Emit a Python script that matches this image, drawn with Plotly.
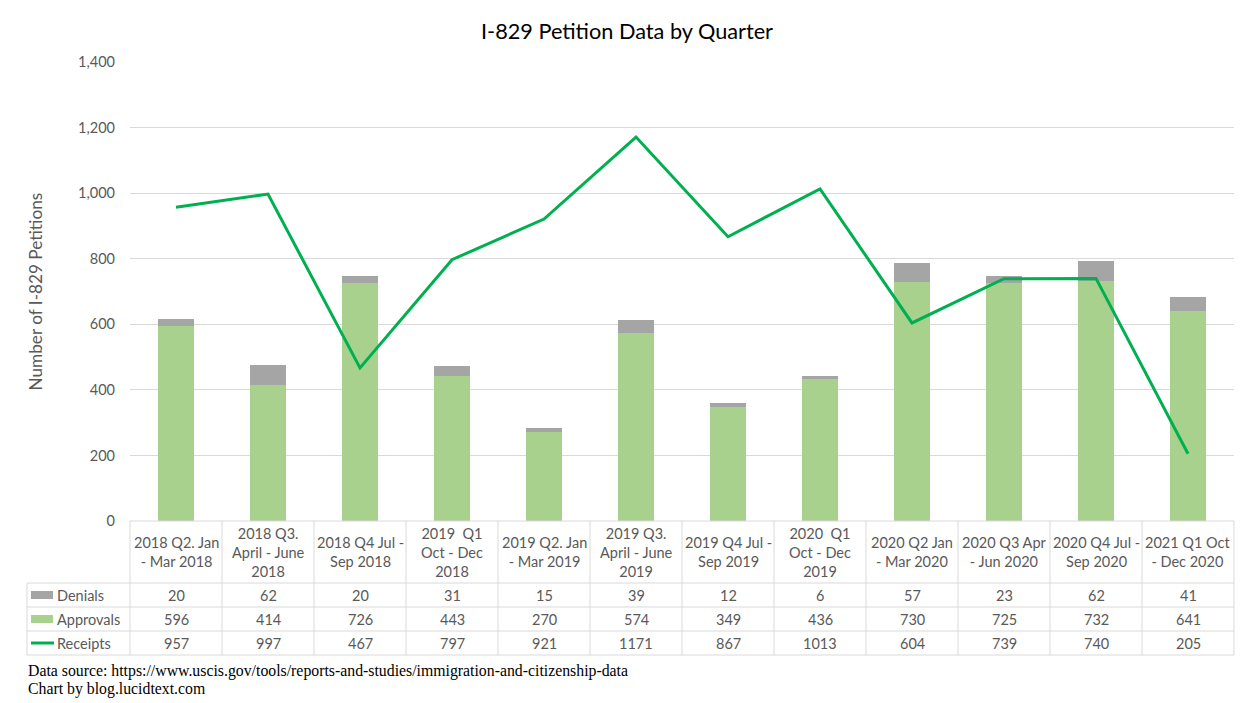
import plotly.graph_objects as go

categories = [
    "2018 Q2. Jan<br>- Mar 2018",
    "2018 Q3.<br>April - June<br>2018",
    "2018 Q4 Jul -<br>Sep 2018",
    "2019  Q1<br>Oct - Dec<br>2018",
    "2019 Q2. Jan<br>- Mar 2019",
    "2019 Q3.<br>April - June<br>2019",
    "2019 Q4 Jul -<br>Sep 2019",
    "2020  Q1<br>Oct - Dec<br>2019",
    "2020 Q2 Jan<br>- Mar 2020",
    "2020 Q3 Apr<br>- Jun 2020",
    "2020 Q4 Jul -<br>Sep 2020",
    "2021 Q1 Oct<br>- Dec 2020",
]
denials = [20, 62, 20, 31, 15, 39, 12, 6, 57, 23, 62, 41]
approvals = [596, 414, 726, 443, 270, 574, 349, 436, 730, 725, 732, 641]
receipts = [957, 997, 467, 797, 921, 1171, 867, 1013, 604, 739, 740, 205]
y_ticks = [0, 200, 400, 600, 800, 1000, 1200, 1400]

# page has an 8px body margin; design the figure to compensate
OFF = 8
W, H = 1254 - 2 * OFF, 703 - OFF
PLOT_LEFT, PLOT_RIGHT, PLOT_TOP, PLOT_BOT = 130, 1234, 62, 521  # page pixels
L = PLOT_LEFT - OFF
R = W - (PLOT_RIGHT - OFF)
T = PLOT_TOP - OFF
B = H - (PLOT_BOT - OFF)
PW = W - L - R
PH = H - T - B

GREEN_BAR = "#a9d18e"
GREY_BAR = "#a5a5a5"
LINE = "#00b050"
TXT = "#595959"
GRID = "#d9d9d9"
FONT = "Lato, Carlito, sans-serif"

n = len(categories)
xs = list(range(n))


def py(pix):
    return (PLOT_BOT - pix) / PH


def px(pix):
    return (pix - PLOT_LEFT) / PW


fig = go.Figure()
fig.add_trace(go.Bar(x=xs, y=approvals, name="Approvals", marker_color=GREEN_BAR,
                     width=0.4, marker_line_width=0))
fig.add_trace(go.Bar(x=xs, y=denials, name="Denials", marker_color=GREY_BAR,
                     width=0.4, marker_line_width=0))
fig.add_trace(go.Scatter(x=xs, y=receipts, name="Receipts", mode="lines",
                         line=dict(color=LINE, width=3)))

shapes = []
annotations = []

y_header_bot = py(583)
row_lines = [py(607), py(631), py(655)]
x_left = px(27)
shapes.append(dict(type="line", xref="paper", yref="paper", x0=0, x1=1, y0=0, y1=0,
                   line=dict(color=GRID, width=1)))
for yl in [y_header_bot] + row_lines:
    shapes.append(dict(type="line", xref="paper", yref="paper", x0=x_left, x1=1,
                       y0=yl, y1=yl, line=dict(color=GRID, width=1)))
for k in range(n + 1):
    shapes.append(dict(type="line", xref="paper", yref="paper", x0=k / n, x1=k / n,
                       y0=0, y1=row_lines[-1], line=dict(color=GRID, width=1)))
shapes.append(dict(type="line", xref="paper", yref="paper", x0=x_left, x1=x_left,
                   y0=y_header_bot, y1=row_lines[-1], line=dict(color=GRID, width=1)))

for i, c in enumerate(categories):
    annotations.append(dict(x=i, y=(0 + y_header_bot) / 2, xref="x", yref="paper",
                            text=c, showarrow=False, xanchor="center", yanchor="middle",
                            font=dict(family=FONT, size=14.5, color=TXT)))

rows = [("Denials", denials), ("Approvals", approvals), ("Receipts", receipts)]
row_bounds = [y_header_bot] + row_lines
for r, (label, vals) in enumerate(rows):
    yc = (row_bounds[r] + row_bounds[r + 1]) / 2
    for i, v in enumerate(vals):
        annotations.append(dict(x=i, y=yc, xref="x", yref="paper", text=str(v),
                                showarrow=False, xanchor="center", yanchor="middle",
                                font=dict(family=FONT, size=14.5, color=TXT)))
    annotations.append(dict(x=px(55), y=yc, xref="paper", yref="paper", text=label,
                            showarrow=False, xanchor="left", yanchor="middle",
                            font=dict(family=FONT, size=14.5, color=TXT)))
    if label == "Receipts":
        shapes.append(dict(type="line", xref="paper", yref="paper", x0=px(31), x1=px(54),
                           y0=yc, y1=yc, line=dict(color=LINE, width=3)))
    else:
        col = GREY_BAR if label == "Denials" else GREEN_BAR
        shapes.append(dict(type="rect", xref="paper", yref="paper", x0=px(31), x1=px(53),
                           y0=yc - 4 / PH, y1=yc + 4 / PH, fillcolor=col,
                           line=dict(width=0)))

annotations.append(dict(x=px(35), y=0.5, xref="paper", yref="paper",
                        text="Number of I-829 Petitions", textangle=-90, showarrow=False,
                        xanchor="center", yanchor="middle",
                        font=dict(family=FONT, size=17.2, color=TXT)))
SERIF = "Liberation Serif, Times New Roman, serif"
annotations.append(dict(x=px(26), y=py(671), xref="paper", yref="paper",
                        text="Data source: https://www.uscis.gov/tools/reports-and-studies/immigration-and-citizenship-data",
                        showarrow=False, xanchor="left", yanchor="middle",
                        font=dict(family=SERIF, size=15.8, color="black")))
annotations.append(dict(x=px(26), y=py(689), xref="paper", yref="paper",
                        text="Chart by blog.lucidtext.com",
                        showarrow=False, xanchor="left", yanchor="middle",
                        font=dict(family=SERIF, size=15.8, color="black")))

fig.update_layout(
    width=W, height=H,
    margin=dict(l=L, r=R, t=T, b=B, autoexpand=False),
    barmode="stack",
    showlegend=False,
    plot_bgcolor="white", paper_bgcolor="white",
    title=dict(text="I-829 Petition Data by Quarter", x=0.5, xref="container",
               y=1 - (31 - OFF) / H, yref="container", xanchor="center", yanchor="middle",
               font=dict(family=FONT, size=21.7, color="black")),
    xaxis=dict(range=[-0.5, n - 0.5], showticklabels=False, showgrid=False,
               zeroline=False, showline=False, ticks=""),
    yaxis=dict(range=[0, 1400], tickvals=y_ticks, tickformat=",d", showgrid=True,
               gridcolor=GRID, gridwidth=1, zeroline=False, showline=False, ticks="",
               ticklabelstandoff=14, tickfont=dict(family=FONT, size=14.5, color=TXT)),
    shapes=shapes,
    annotations=annotations,
)

fig.write_html("out.html")
